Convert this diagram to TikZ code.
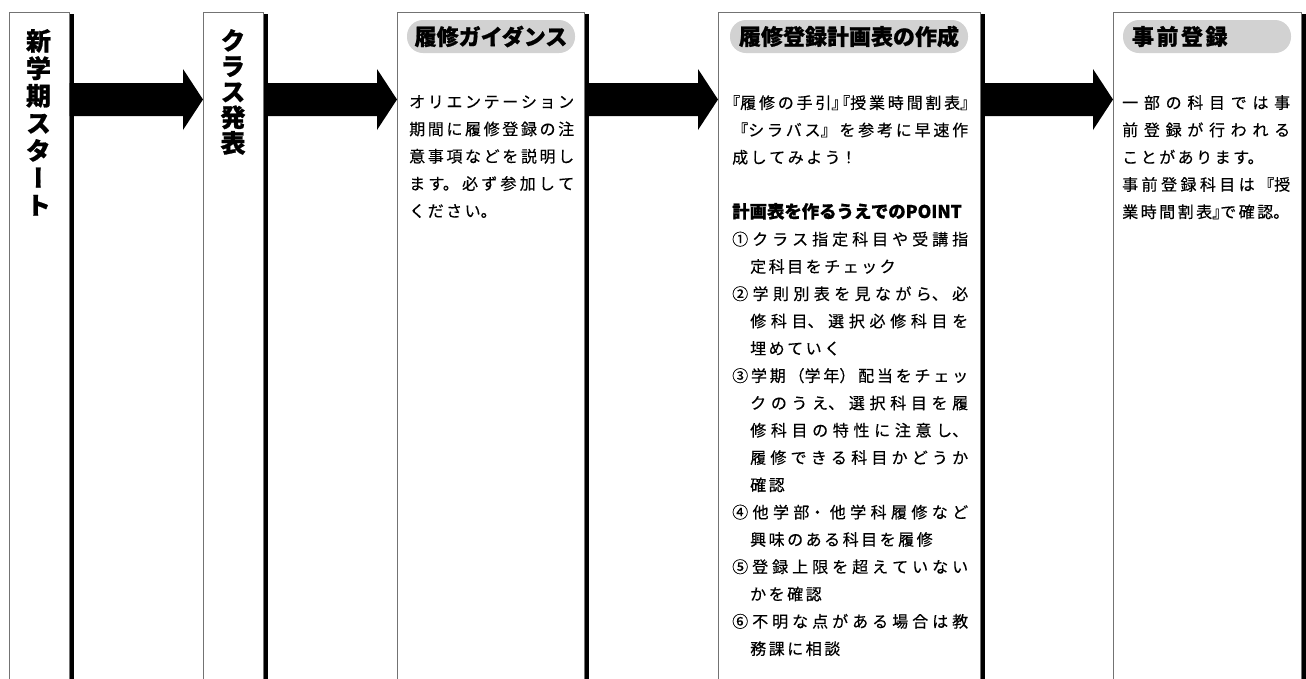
\documentclass[tikz,border=0pt]{standalone}
\usepackage{fontspec}
\usetikzlibrary{calc}
\newfontfamily\jp[FakeBold=0.35]{Noto Sans CJK JP}
\newfontfamily\jphd[BoldFeatures={FakeBold=0.8}]{Noto Sans CJK JP}
\newfontfamily\jpv[RawFeature=+vert,BoldFeatures={FakeBold=0.8}]{Noto Sans CJK JP}
\newfontfamily\jph[RawFeature=+halt,FakeBold=0.35]{Noto Sans CJK JP}
\definecolor{pillgray}{RGB}{210,210,210}
\XeTeXlinebreaklocale "ja"
\XeTeXlinebreakskip=2.5pt plus 8pt
% fat arrow from one column to the next
\newcommand{\blockarrow}[2]{%
  \fill (#1.east |- bodytop) -- ($(#2.west |- bodytop)+(-20,0)$) -- ($(#2.west |- headtop)+(-20,0)$)
    -- (#2.west |- tipy) -- ($(#2.west |- headbot)+(-20,0)$) -- ($(#2.west |- bodybot)+(-20,0)$)
    -- (#1.east |- bodybot) -- cycle;}
\newcommand{\colshadow}[1]{%
  \fill ($(#1.north east)+(0,2)$) rectangle ($(#1.south east)+(4,0)$);}
\begin{document}
\begin{tikzpicture}[x=1pt,y=-1pt]
\useasboundingbox (0,0) rectangle (1306,678);

\tikzstyle{col} = [draw=black!55, line width=1.2pt, shape=rectangle, anchor=north west, minimum height=700pt, inner sep=0pt, fill=white]
\tikzstyle{vtext} = [anchor=north, align=center, inner sep=0pt, font=\jpv\bfseries\fontsize{25}{26.7}\selectfont]
\tikzstyle{pill} = [fill=pillgray, rounded corners=16pt, minimum height=33pt, inner sep=0pt, font=\jphd\bfseries\fontsize{22}{22}\selectfont]
\tikzstyle{body} = [anchor=north west, inner sep=0pt, align=justify, font=\jp\fontsize{16}{27.3}\selectfont]

% arrow heights
\coordinate (bodytop) at (0,83);
\coordinate (bodybot) at (0,116);
\coordinate (headtop) at (0,69);
\coordinate (headbot) at (0,130);
\coordinate (tipy) at (0,99.5);

% columns
\node at (8.5,12)[col, minimum width=60pt](start){};
\node at (203,12)[col, minimum width=60pt](klass){};
\node at (397,12)[col, minimum width=187pt](guide){};
\node at (718,12)[col, minimum width=262pt](plan){};
\node at (1113,12)[col, minimum width=188pt](prereg){};

\colshadow{start}
\colshadow{klass}
\colshadow{guide}
\colshadow{plan}
\colshadow{prereg}

\blockarrow{start}{klass}
\blockarrow{klass}{guide}
\blockarrow{guide}{plan}
\blockarrow{plan}{prereg}
\fill (prereg.east |- bodytop) rectangle (1320,116);

% titles
\node at (38.5,29)[vtext, font=\jpv\bfseries\fontsize{25}{27.4}\selectfont](starttxt){新\\学\\期\\ス\\タ\\ー\\ト};
\node at (233,29)[vtext, font=\jpv\bfseries\fontsize{25}{25.6}\selectfont](klasstxt){ク\\ラ\\ス\\発\\表};

\node at (491,36.5)[pill, minimum width=168pt](guidehd){履修ガイダンス};
\node at (849,36.5)[pill, minimum width=238pt](planhd){履修登録計画表の作成};
\node at (1207,36.5)[pill, text width=150pt, inner xsep=9pt, align=left](prereghd){事前登録};

% texts
\node at (409,95)[body, text width=165pt](guidetxt){%
オリエンテーション\linebreak
期間に履修登録の注\linebreak
意事項などを説明し\linebreak
ます。必ず参加して\linebreak
ください。};

\node at (732,95)[body, text width=236pt](plantxt){%
{\jph『}履修の手引{\jph』『}授業時間割表{\jph』}\linebreak
『シラバス』を参考に早速作\linebreak
成してみよう！\\[27.3pt]
\mbox{\XeTeXlinebreakskip=0pt\jphd\bfseries\fontsize{17.4}{27.3}\selectfont 計画表を作るうえでのPOINT}\\
①クラス指定科目や受講指\linebreak
\hspace*{18pt}定科目をチェック\\
②学則別表を見ながら、必\linebreak
\hspace*{18pt}修科目、選択必修科目を\linebreak
\hspace*{18pt}埋めていく\\
③学期（学年）配当をチェッ\linebreak
\hspace*{18pt}クのうえ、選択科目を履\linebreak
\hspace*{18pt}修科目の特性に注意し、\linebreak
\hspace*{18pt}履修できる科目かどうか\linebreak
\hspace*{18pt}確認\\
④他学部・他学科履修など\linebreak
\hspace*{18pt}興味のある科目を履修\\
⑤登録上限を超えていない\linebreak
\hspace*{18pt}かを確認\\
⑥不明な点がある場合は教\linebreak
\hspace*{18pt}務課に相談};

\node at (1122,95)[body, text width=168pt](pregtxt){%
一部の科目では事\linebreak
前登録が行われる\linebreak
ことがあります。\\
事前登録科目は『授\linebreak
業時間割表{\jph』}で確認{\jph 。}};

\end{tikzpicture}
\end{document}
